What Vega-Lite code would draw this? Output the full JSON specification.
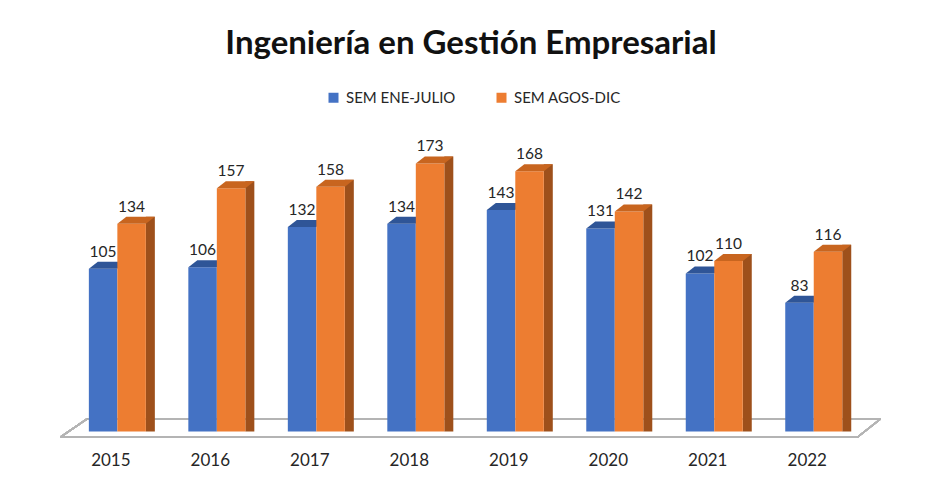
{
  "$schema": "https://vega.github.io/schema/vega-lite/v6.json",
  "autosize": "none",
  "width": 926,
  "height": 294,
  "padding": {"left": 0, "top": 153, "right": 0, "bottom": 40},
  "background": "white",
  "config": {"font": "Lato", "view": {"stroke": null}},
  "title": {
    "text": "Ingeniería en Gestión Empresarial",
    "font": "Lato",
    "fontSize": 33,
    "fontWeight": "bold",
    "color": "#111111",
    "anchor": "middle",
    "dx": 8,
    "offset": 29
  },
  "data": {
    "values": [
      {"year": 2015, "series": "SEM ENE-JULIO", "value": 105},
      {"year": 2015, "series": "SEM AGOS-DIC", "value": 134},
      {"year": 2016, "series": "SEM ENE-JULIO", "value": 106},
      {"year": 2016, "series": "SEM AGOS-DIC", "value": 157},
      {"year": 2017, "series": "SEM ENE-JULIO", "value": 132},
      {"year": 2017, "series": "SEM AGOS-DIC", "value": 158},
      {"year": 2018, "series": "SEM ENE-JULIO", "value": 134},
      {"year": 2018, "series": "SEM AGOS-DIC", "value": 173},
      {"year": 2019, "series": "SEM ENE-JULIO", "value": 143},
      {"year": 2019, "series": "SEM AGOS-DIC", "value": 168},
      {"year": 2020, "series": "SEM ENE-JULIO", "value": 131},
      {"year": 2020, "series": "SEM AGOS-DIC", "value": 142},
      {"year": 2021, "series": "SEM ENE-JULIO", "value": 102},
      {"year": 2021, "series": "SEM AGOS-DIC", "value": 110},
      {"year": 2022, "series": "SEM ENE-JULIO", "value": 83},
      {"year": 2022, "series": "SEM AGOS-DIC", "value": 116}
    ]
  },
  "encoding": {
    "x": {
      "field": "year",
      "type": "quantitative",
      "scale": {"domain": [2013.941, 2023.1485], "nice": false, "zero": false},
      "axis": {
        "title": null,
        "values": [2015, 2016, 2017, 2018, 2019, 2020, 2021, 2022],
        "format": "d",
        "ticks": false,
        "domain": false,
        "grid": false,
        "labelFont": "Lato",
        "labelFontSize": 17,
        "labelColor": "#262626",
        "labelPadding": 5,
        "labelFlush": false,
        "labelOverlap": false
      }
    },
    "y": {
      "field": "value",
      "type": "quantitative",
      "stack": null,
      "scale": {"domain": [-10, 179.7], "nice": false, "zero": false},
      "axis": null
    }
  },
  "layer": [
    {
      "mark": {"type": "rule", "color": "#B4B4B4", "strokeWidth": 1.5},
      "encoding": {
        "x": {"datum": 2014.498, "type": "quantitative"},
        "x2": {"datum": 2022.512},
        "y": {"datum": -3.55, "type": "quantitative"},
        "y2": {"datum": -3.55}
      }
    },
    {
      "mark": {"type": "rule", "color": "#B4B4B4", "strokeWidth": 1.5},
      "encoding": {
        "x": {"datum": 2014.766, "type": "quantitative"},
        "x2": {"datum": 2022.741},
        "y": {"datum": 8.07, "type": "quantitative"},
        "y2": {"datum": 8.07}
      }
    },
    {
      "mark": {"type": "rule", "color": "#B4B4B4", "strokeWidth": 1.5},
      "encoding": {
        "x": {"datum": 2014.498, "type": "quantitative"},
        "x2": {"datum": 2014.766},
        "y": {"datum": -3.55, "type": "quantitative"},
        "y2": {"datum": 8.07}
      }
    },
    {
      "mark": {"type": "rule", "color": "#B4B4B4", "strokeWidth": 1.5},
      "encoding": {
        "x": {"datum": 2022.512, "type": "quantitative"},
        "x2": {"datum": 2022.741},
        "y": {"datum": -3.55, "type": "quantitative"},
        "y2": {"datum": 8.07}
      }
    },
    {
      "transform": [{"filter": "datum.series === 'SEM ENE-JULIO'"}],
      "mark": {"type": "bar", "orient": "vertical", "width": 28.5, "xOffset": -7.25},
      "encoding": {
        "color": {
          "field": "series",
          "type": "nominal",
          "scale": {"domain": ["SEM ENE-JULIO", "SEM AGOS-DIC"], "range": ["#4472C4", "#ED7D31"]},
          "legend": {
            "title": null,
            "orient": "none",
            "direction": "horizontal",
            "legendX": 326,
            "legendY": -63,
            "symbolType": "square",
            "symbolSize": 100,
            "symbolStrokeWidth": 0,
            "labelFont": "Lato",
            "labelFontSize": 15,
            "labelColor": "#262626",
            "labelOffset": 5,
            "columnPadding": 38
          }
        }
      }
    },
    {
      "transform": [{"filter": "datum.series === 'SEM ENE-JULIO'"}],
      "mark": {
        "type": "point",
        "shape": "M -1.425 0 L -0.525 -0.7 L 2.325 -0.7 L 1.425 0 Z",
        "size": 400,
        "filled": true,
        "opacity": 1,
        "strokeWidth": 0,
        "color": "#2F5597",
        "xOffset": -7.25
      }
    },
    {
      "transform": [{"filter": "datum.series === 'SEM AGOS-DIC'"}],
      "mark": {"type": "bar", "orient": "vertical", "width": 9, "xOffset": 40, "yOffset": -7, "y2Offset": -3, "color": "#9E501B"}
    },
    {
      "transform": [{"filter": "datum.series === 'SEM AGOS-DIC'"}],
      "mark": {"type": "bar", "orient": "vertical", "width": 28.5, "xOffset": 21.25},
      "encoding": {
        "color": {"field": "series", "type": "nominal"}
      }
    },
    {
      "transform": [{"filter": "datum.series === 'SEM AGOS-DIC'"}],
      "mark": {
        "type": "point",
        "shape": "M -1.425 0 L -0.525 -0.7 L 2.325 -0.7 L 1.425 0 Z",
        "size": 400,
        "filled": true,
        "opacity": 1,
        "strokeWidth": 0,
        "color": "#C8651F",
        "xOffset": 21.25
      }
    },
    {
      "transform": [{"filter": "datum.series === 'SEM ENE-JULIO'"}],
      "mark": {"type": "text", "font": "Lato", "fontSize": 15.5, "color": "#262626", "baseline": "alphabetic", "dy": -12, "xOffset": -7.25},
      "encoding": {"text": {"field": "value", "type": "quantitative"}}
    },
    {
      "transform": [{"filter": "datum.series === 'SEM AGOS-DIC'"}],
      "mark": {"type": "text", "font": "Lato", "fontSize": 15.5, "color": "#262626", "baseline": "alphabetic", "dy": -12, "xOffset": 21.25},
      "encoding": {"text": {"field": "value", "type": "quantitative"}}
    }
  ]
}
